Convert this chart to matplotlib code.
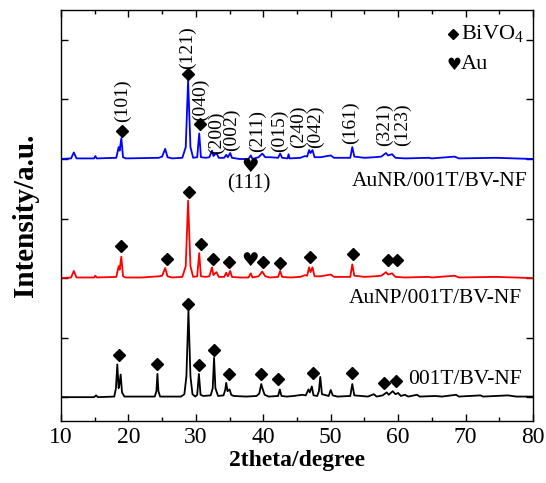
import numpy as np
import matplotlib
matplotlib.use('Agg')
import matplotlib.pyplot as plt
from matplotlib.ticker import MultipleLocator

plt.rcParams['font.family'] = ['Liberation Serif', 'DejaVu Sans']
plt.rcParams['mathtext.fontset'] = 'custom'
plt.rcParams['mathtext.rm'] = 'Liberation Serif'

# ---------------- data ----------------
# 001T/BV-NF (black), vertices of the pattern
bk_x = [10.0, 14.9, 15.2, 15.5, 17.9, 18.15, 18.35, 18.55, 18.65, 18.85, 19.05, 19.4, 23.9, 24.15, 24.3,
        24.45, 24.7, 27.8, 28.3, 28.6, 28.9, 29.2, 29.5, 29.9, 30.2, 30.45, 30.7, 31.1, 32.2, 32.5, 32.7,
        32.9, 33.3, 34.1, 34.35, 34.5, 34.7, 35.0, 35.25, 35.6, 37.5, 39.0, 39.4, 39.7, 39.9, 40.2, 40.8,
        42.2, 42.45, 42.7, 43.5, 44.5, 45.8, 46.3, 46.7, 46.9, 47.2, 47.45, 48.0, 48.25, 48.45, 48.7,
        49.7, 50.0, 50.3, 51.0, 52.9, 53.2, 53.5, 55.5, 56.4, 56.8, 57.7, 58.3, 58.6, 59.2, 59.6, 60.0,
        60.4, 61.0, 61.5, 62.8, 63.2, 65.5, 66.5, 68.6, 69.0, 72.2, 72.6, 74.5, 76.3, 77.5, 80.0]
bk_y = [0.0, 0.0, 0.03, 0.0, 0.01, 0.15, 0.55, 0.15, 0.2, 0.38, 0.08, 0.01, 0.01, 0.1, 0.39,
        0.1, 0.01, 0.01, 0.05, 0.35, 1.45, 0.35, 0.05, 0.01, 0.04, 0.39, 0.04, 0.02, 0.03, 0.15, 0.66,
        0.15, 0.02, 0.03, 0.12, 0.24, 0.1, 0.13, 0.04, 0.02, 0.01, 0.02, 0.06, 0.22, 0.14, 0.04, 0.01,
        0.02, 0.13, 0.02, 0.01, 0.02, 0.04, 0.03, 0.13, 0.08, 0.18, 0.03, 0.02, 0.1, 0.34, 0.05,
        0.02, 0.12, 0.03, 0.01, 0.02, 0.22, 0.03, 0.01, 0.05, 0.01, 0.03, 0.08, 0.04, 0.1, 0.05, 0.07,
        0.02, 0.04, 0.01, 0.04, 0.01, 0.02, 0.01, 0.04, 0.01, 0.03, 0.01, 0.02, 0.03, 0.01, 0.01]

# AuNP/001T/BV-NF (red)
rd_x = [10.0, 11.5, 11.9, 12.3, 14.9, 15.1, 15.3, 18.2, 18.55, 18.7, 18.95, 19.2, 19.6, 22.0, 24.5,
        25.0, 25.45, 25.8, 26.5, 28.0, 28.5, 28.85, 29.2, 29.6, 30.2, 30.5, 30.75, 31.5, 32.0, 32.4,
        32.6, 33.05, 33.4, 34.2, 34.5, 34.75, 35.1, 35.35, 36.5, 37.8, 38.15, 38.4, 39.3, 39.85, 40.3,
        41.0, 42.2, 42.5, 42.8, 44.0, 45.5, 46.2, 46.5, 46.8, 47.0, 47.3, 47.6, 48.5, 50.0, 50.5, 52.9,
        53.2, 53.5, 55.0, 56.5, 57.5, 58.2, 58.5, 59.1, 59.6, 61.0, 64.5, 65.0, 68.4, 69.0, 74.5, 80.0]
rd_y = [0.0, 0.01, 0.12, 0.01, 0.01, 0.04, 0.01, 0.02, 0.2, 0.14, 0.36, 0.03, 0.01, 0.01, 0.03,
        0.04, 0.17, 0.03, 0.01, 0.02, 0.2, 1.3, 0.2, 0.02, 0.03, 0.42, 0.03, 0.02, 0.03, 0.18,
        0.05, 0.1, 0.02, 0.02, 0.09, 0.03, 0.12, 0.02, 0.01, 0.01, 0.08, 0.01, 0.03, 0.11, 0.03,
        0.01, 0.02, 0.12, 0.02, 0.01, 0.02, 0.05, 0.04, 0.18, 0.1, 0.18, 0.03, 0.03, 0.06, 0.02, 0.02,
        0.23, 0.04, 0.02, 0.03, 0.04, 0.1, 0.06, 0.08, 0.02, 0.01, 0.02, 0.01, 0.04, 0.01, 0.02, 0.0]

# AuNR/001T/BV-NF (blue)
bl_x = [10.0, 11.5, 11.9, 12.3, 14.9, 15.1, 15.3, 18.2, 18.55, 18.7, 18.95, 19.2, 19.6, 24.5, 25.0,
        25.45, 25.8, 26.5, 28.0, 28.5, 28.85, 29.2, 29.6, 30.2, 30.5, 30.75, 31.5, 32.0, 32.4, 32.6,
        33.05, 33.4, 34.2, 34.5, 34.75, 35.1, 35.35, 36.5, 37.8, 38.15, 38.4, 39.3, 39.85, 40.3, 41.0,
        42.2, 42.5, 42.8, 43.6, 43.75, 43.9, 45.5, 46.2, 46.5, 46.8, 47.0, 47.3, 47.6, 48.5, 50.0, 50.5,
        52.9, 53.2, 53.5, 55.0, 56.5, 57.5, 58.2, 58.5, 59.1, 59.6, 61.0, 64.5, 65.0, 68.4, 69.0, 74.5, 80.0]
bl_y = [0.0, 0.01, 0.11, 0.01, 0.01, 0.05, 0.01, 0.02, 0.2, 0.14, 0.35, 0.03, 0.01, 0.02, 0.04,
        0.17, 0.03, 0.01, 0.02, 0.2, 1.32, 0.2, 0.02, 0.03, 0.43, 0.03, 0.02, 0.03, 0.14, 0.05,
        0.1, 0.02, 0.02, 0.07, 0.03, 0.1, 0.02, 0.0, 0.0, 0.06, 0.0, 0.03, 0.09, 0.03, 0.03,
        0.02, 0.09, 0.02, 0.01, 0.08, 0.01, 0.02, 0.05, 0.04, 0.15, 0.1, 0.15, 0.03, 0.03, 0.06, 0.02,
        0.02, 0.2, 0.04, 0.02, 0.03, 0.04, 0.1, 0.06, 0.08, 0.02, 0.01, 0.02, 0.01, 0.04, 0.01, 0.02, 0.0]

offsets = [0, 2, 4]

# BiVO4 diamond markers (absolute y)
bk_dia_x = [18.6, 24.2, 28.9, 30.5, 32.7, 34.9, 39.7, 42.2, 47.4, 53.2, 57.9, 59.7]
bk_dia_y = [0.71, 0.55, 1.56, 0.54, 0.79, 0.39, 0.39, 0.30, 0.40, 0.40, 0.24, 0.27]
rd_dia_x = [18.9, 25.7, 28.95, 30.8, 32.55, 34.9, 40.0, 42.5, 46.9, 53.3, 58.5, 59.85]
rd_dia_y = [2.54, 2.32, 3.45, 2.57, 2.32, 2.27, 2.27, 2.25, 2.35, 2.40, 2.30, 2.30]
bl_dia_x = [19.05, 28.85, 30.6]
bl_dia_y = [4.47, 5.43, 4.59]

# Au hearts
au_x = [38.0, 38.0]
au_y = [2.29, 3.88]

# hkl labels on the blue pattern (x, bottom of text)
hkl = ['(101)', '(121)', '(040)', '(200)', '(002)', '(211)', '(015)', '(240)', '(042)', '(161)', '(321)', '(123)']
hkl_x = [19.05, 28.8, 30.7, 33.0, 35.3, 39.2, 42.4, 45.2, 47.7, 53.0, 57.9, 60.7]
hkl_y = [4.62, 5.51, 4.64, 4.08, 4.13, 4.12, 4.12, 4.18, 4.18, 4.25, 4.22, 4.22]

names = ['001T/BV-NF', 'AuNP/001T/BV-NF', 'AuNR/001T/BV-NF']
name_x = [78.3, 78.3, 79.1]
name_y = [0.30, 1.66, 3.63]

# ---------------- plot ----------------
fig = plt.figure(figsize=(5.46, 4.83), dpi=100)
ax = fig.add_axes([0.1117, 0.1284, 0.8645, 0.8506])

ax.plot(bk_x, np.array(bk_y) + offsets[0], color='black', linewidth=1.3)
ax.plot(rd_x, np.array(rd_y) + offsets[1], color='red', linewidth=1.3)
ax.plot(bl_x, np.array(bl_y) + offsets[2], color='blue', linewidth=1.3)

for dx, dy in [(bk_dia_x, bk_dia_y), (rd_dia_x, rd_dia_y), (bl_dia_x, bl_dia_y)]:
    ax.plot(dx, dy, linestyle='none', marker='D', markersize=6.5, color='black')

for hx, hy in zip(au_x, au_y):
    ax.text(hx, hy, '\u2665', ha='center', va='center', fontsize=14, family='DejaVu Sans', color='black')

for lab, lx, ly in zip(hkl, hkl_x, hkl_y):
    ax.text(lx, ly, lab, rotation=90, ha='center', va='bottom', fontsize=14)
ax.text(37.8, 3.58, '(111)', ha='center', va='center', fontsize=15)

for nm, nx, ny in zip(names, name_x, name_y):
    ax.text(nx, ny, nm, ha='right', va='center', fontsize=15.5)

# legend made of symbols + text
ax.plot([68.2], [6.1], linestyle='none', marker='D', markersize=5.5, color='black')
ax.text(69.3, 6.1, 'BiVO$_4$', ha='left', va='center', fontsize=16)
ax.text(68.3, 5.58, '\u2665', ha='center', va='center', fontsize=12, family='DejaVu Sans')
ax.text(69.3, 5.58, 'Au', ha='left', va='center', fontsize=16)

ax.set_xlim(10, 80)
ax.set_ylim(-0.4, 6.5)
ax.set_xticks([10, 20, 30, 40, 50, 60, 70, 80])
ax.xaxis.set_minor_locator(MultipleLocator(5))
ax.set_yticks([0, 1, 2, 3, 4, 5, 6])
ax.set_yticklabels([])
ax.tick_params(axis='both', which='both', direction='in', top=True, right=True, width=1.0)
ax.tick_params(axis='both', which='major', length=5, labelsize=17, pad=4)
ax.tick_params(axis='both', which='minor', length=3)
for sp in ax.spines.values():
    sp.set_linewidth(1.0)

ax.set_xlabel('2theta/degree', fontsize=17, fontweight='bold', labelpad=2)
ax.set_ylabel('Intensity/a.u.', fontsize=21, fontweight='bold', labelpad=12)

plt.savefig('out.png', dpi=100)
